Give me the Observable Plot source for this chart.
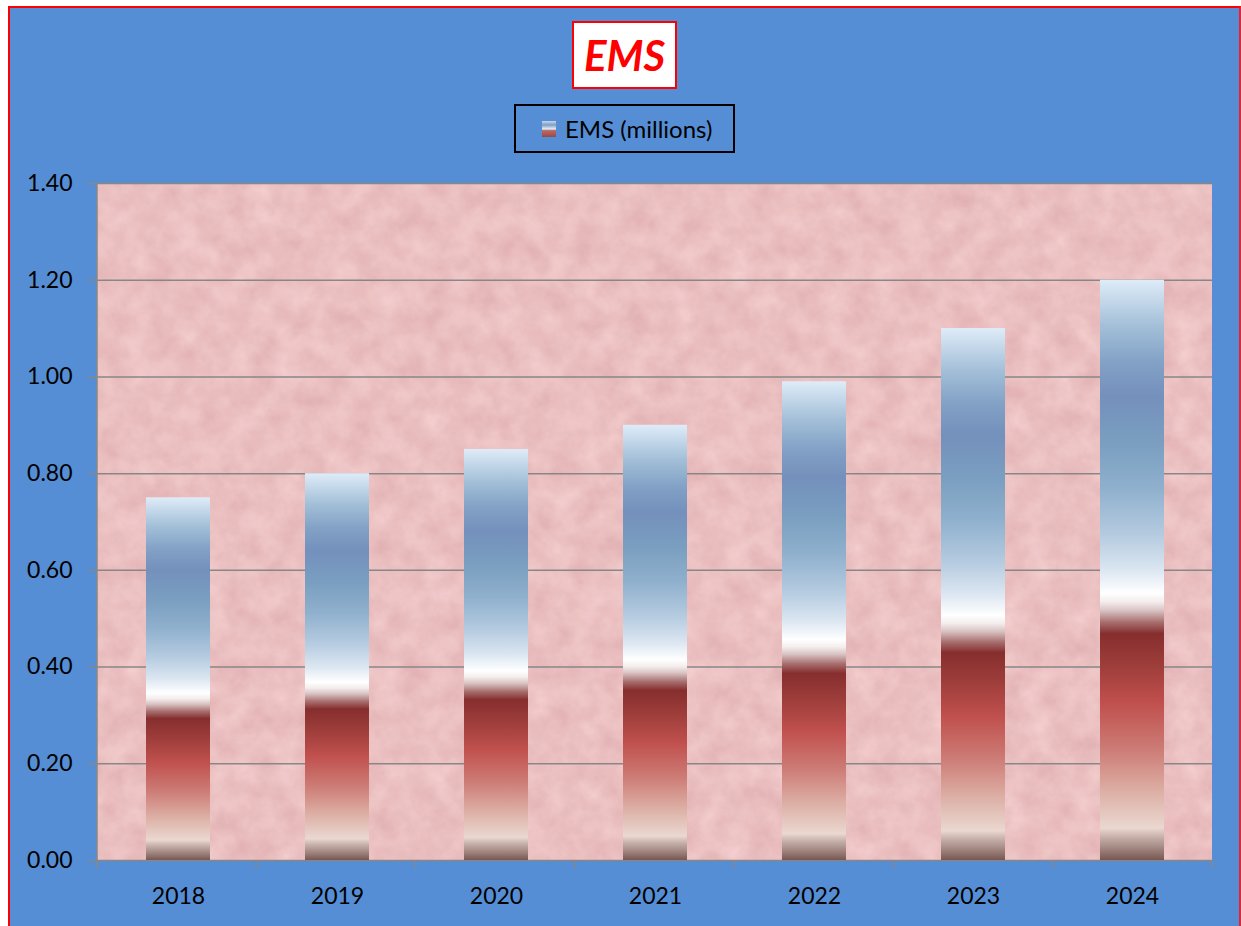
<!DOCTYPE html>
<html>
<head>
<meta charset="utf-8">
<script src="https://cdn.jsdelivr.net/npm/d3@7"></script>
<script src="https://cdn.jsdelivr.net/npm/@observablehq/plot@0.6"></script>
<style>
  html, body { margin: 0; padding: 0; background: #ffffff; width: 1241px; height: 926px; overflow: hidden; }
  #frame { position: absolute; left: 8px; top: 6px; width: 1233px; height: 940px; box-sizing: border-box;
           background: #558ed5; border: 2px solid #ff0000; border-right-color: #d9283c; }
  #title { position: absolute; left: 572px; top: 21px; width: 105px; height: 68px; box-sizing: border-box;
           background: #ffffff; border: 2px solid #ff0000; display: flex; align-items: center; justify-content: center;
           font-family: Lato, "Open Sans", sans-serif; font-weight: bold; font-style: italic; font-size: 42px; color: #ff0000; }
  #legend { position: absolute; left: 514px; top: 104px; width: 221px; height: 49px; box-sizing: border-box;
            border: 2px solid #000000; display: flex; align-items: center;
            font-family: Lato, "Open Sans", sans-serif; font-size: 24px; color: #000000; }
  #legend .sw { width: 14px; height: 16px; margin-left: 26px; margin-right: 9px; }
  #chart { position: absolute; left: 0; top: 160px; }
</style>
</head>
<body>
<div id="frame"></div>
<div id="title">EMS</div>
<div id="legend"><div class="sw" id="sw"></div><span>EMS (millions)</span></div>
<div id="chart"></div>
<script>
// ---- data ----
const years = ["2018", "2019", "2020", "2021", "2022", "2023", "2024"];
const emsMillions = [0.75, 0.80, 0.85, 0.90, 0.99, 1.10, 1.20];
const yTicks = [0, 0.2, 0.4, 0.6, 0.8, 1.0, 1.2, 1.4];
const seriesName = "EMS (millions)";

const table = years.map((year, i) => ({year, value: emsMillions[i]}));

// ---- styling ----
const gridColor = "#878787";
const gradStops = [
  [0.00, "#dfecf8"], [0.03, "#c8dbec"], [0.08, "#a3bfd8"], [0.14, "#83a2c6"],
  [0.20, "#7490bc"], [0.28, "#7a9ec0"], [0.36, "#8fb0cd"], [0.44, "#b5cbe0"],
  [0.50, "#dbe6f1"], [0.54, "#ffffff"], [0.555, "#f4eded"], [0.57, "#d9c3c3"],
  [0.59, "#a86f6f"], [0.61, "#862e2e"], [0.67, "#a03f3c"], [0.73, "#c0504d"],
  [0.81, "#cd7c76"], [0.88, "#dcaea4"], [0.945, "#ead8d0"], [0.96, "#c8b1ab"],
  [0.98, "#a0867f"], [1.00, "#7a5651"]
];
document.getElementById("sw").style.background =
  "linear-gradient(to bottom, #c5d8ea 0%, #7f9ec4 25%, #e8eff7 50%, #a86f6f 60%, #c0504d 80%, #7a5651 100%)";

function backdrop(index, scales, values, dims) {
  const {width, height, marginLeft, marginRight, marginTop, marginBottom} = dims;
  const g = d3.create("svg:g");
  const defs = g.append("defs");
  const lg = defs.append("linearGradient").attr("id", "emsGrad")
    .attr("x1", 0).attr("y1", 0).attr("x2", 0).attr("y2", 1);
  gradStops.forEach(([o, c]) => lg.append("stop").attr("offset", o).attr("stop-color", c));
  const f = defs.append("filter").attr("id", "marble")
    .attr("x", 0).attr("y", 0).attr("width", "100%").attr("height", "100%")
    .attr("color-interpolation-filters", "sRGB");
  f.append("feTurbulence").attr("type", "fractalNoise").attr("baseFrequency", 0.04)
    .attr("numOctaves", 4).attr("seed", 7).attr("result", "n");
  f.append("feColorMatrix").attr("in", "n").attr("type", "matrix")
    .attr("values", "0.09 0 0 0 0.875  0.14 0 0 0 0.68  0.13 0 0 0 0.69  0 0 0 0 1").attr("result", "c");
  f.append("feComposite").attr("in", "c").attr("in2", "SourceGraphic").attr("operator", "in");
  g.append("rect")
    .attr("x", marginLeft).attr("y", marginTop)
    .attr("width", width - marginLeft - marginRight)
    .attr("height", height - marginTop - marginBottom)
    .attr("fill", "#ebc0c0").attr("filter", "url(#marble)");
  return g.node();
}

function axisLines(index, scales, values, dims) {
  const {width, height, marginLeft, marginRight, marginTop, marginBottom} = dims;
  const g = d3.create("svg:g").attr("stroke", gridColor).attr("stroke-width", 1.5);
  const bottom = height - marginBottom;
  g.append("line").attr("x1", marginLeft).attr("x2", marginLeft).attr("y1", marginTop).attr("y2", bottom + 8);
  const step = (width - marginLeft - marginRight) / years.length;
  for (let k = 1; k <= years.length; ++k) {
    const x = marginLeft + k * step;
    g.append("line").attr("x1", x).attr("x2", x).attr("y1", bottom).attr("y2", bottom + 8);
  }
  return g.node();
}

const chart = Plot.plot({
  width: 1241,
  height: 766,
  marginLeft: 97,
  marginRight: 29,
  marginTop: 23,
  marginBottom: 66,
  style: {background: "transparent", fontFamily: "Lato, 'Open Sans', sans-serif", fontSize: "23px", color: "#000", overflow: "visible"},
  x: {domain: years, paddingInner: 0.6, paddingOuter: 0.3, label: null},
  y: {domain: [0, 1.4], label: null},
  marks: [
    backdrop,
    Plot.gridY(yTicks, {stroke: gridColor, strokeOpacity: 1, strokeWidth: 1.5}),
    Plot.barY(table, {x: "year", y: "value", fill: "url(#emsGrad)", title: d => `${seriesName} ${d.year}: ${d.value}`}),
    axisLines,
    Plot.axisY({ticks: yTicks, tickFormat: d3.format(".2f"), tickSize: 8, tickPadding: 17,
                stroke: gridColor, strokeWidth: 1.5, fill: "#000", fontSize: 23, label: null}),
    Plot.axisX({tickSize: 0, tickPadding: 27, fill: "#000", fontSize: 23, label: null})
  ]
});
document.getElementById("chart").appendChild(chart);
</script>
</body>
</html>
